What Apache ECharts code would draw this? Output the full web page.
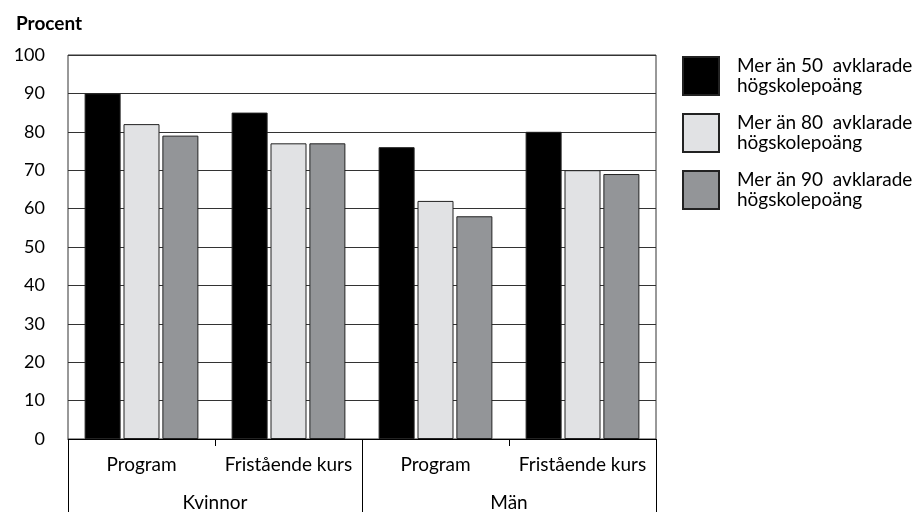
<!DOCTYPE html>
<html>
<head>
<meta charset="utf-8">
<script src="https://cdn.jsdelivr.net/npm/echarts@6/dist/echarts.min.js"></script>
<style>
html, body { margin: 0; padding: 0; background: #fff; }
#main { width: 917px; height: 512px; }
</style>
</head>
<body>
<div id="main"></div>
<script>
var groups = ['Kvinnor', 'Män'];
var categories = ['Program', 'Fristående kurs', 'Program', 'Fristående kurs'];
var seriesNames = [
	'Mer än 50  avklarade\nhögskolepoäng',
	'Mer än 80  avklarade\nhögskolepoäng',
	'Mer än 90  avklarade\nhögskolepoäng'
];
var over50 = [90, 85, 76, 80];
var over80 = [82, 77, 62, 70];
var over90 = [79, 77, 58, 69];
var colors = ['#000000', '#e1e2e4', '#939598'];

var font = 'Lato, "DejaVu Sans", sans-serif';
var myChart = echarts.init(document.getElementById('main'));

function bar(name, data, color) {
	return {
		name: name,
		type: 'bar',
		data: data,
		barWidth: 36,
		barGap: '8%',
		itemStyle: {
			color: color,
			borderColor: '#222',
			borderWidth: 1
		}
	};
}

var option = {
	animation: false,
	textStyle: { fontFamily: font },
	title: {
		text: 'Procent',
		left: 11,
		top: 9,
		textStyle: { fontFamily: font, fontSize: 19, fontWeight: 'bold', color: '#000' }
	},
	legend: {
		orient: 'vertical',
		left: 677,
		top: 51,
		itemWidth: 36,
		itemHeight: 38,
		itemGap: 17,
		icon: 'rect',
		data: seriesNames,
		textStyle: {
			fontFamily: font,
			fontSize: 19,
			color: '#000',
			lineHeight: 20,
			padding: [0, 0, 0, 13]
		}
	},
	grid: {
		left: 68,
		right: 261,
		top: 55,
		bottom: 73,
		show: true,
		borderColor: '#333',
		borderWidth: 1
	},
	xAxis: [
		{
			type: 'category',
			data: categories,
			axisLine: { show: true, lineStyle: { color: '#000', width: 1 } },
			axisTick: { show: true, length: 7, lineStyle: { color: '#000' } },
			axisLabel: { margin: 16, fontSize: 19, color: '#000', fontFamily: font, interval: 0 }
		},
		{
			type: 'category',
			data: groups,
			position: 'bottom',
			axisLine: { show: false },
			axisTick: { show: true, length: 80, lineStyle: { color: '#000' } },
			axisLabel: { margin: 54, fontSize: 19, color: '#000', fontFamily: font }
		}
	],
	yAxis: {
		type: 'value',
		min: 0,
		max: 100,
		interval: 10,
		axisLine: { show: false },
		axisTick: { show: false },
		axisLabel: { margin: 23, fontSize: 18, color: '#000', fontFamily: font },
		splitLine: { lineStyle: { color: '#333', width: 1 } }
	},
	series: [
		bar(seriesNames[0], over50, colors[0]),
		bar(seriesNames[1], over80, colors[1]),
		bar(seriesNames[2], over90, colors[2])
	]
};

myChart.setOption(option, true);
</script>
</body>
</html>
